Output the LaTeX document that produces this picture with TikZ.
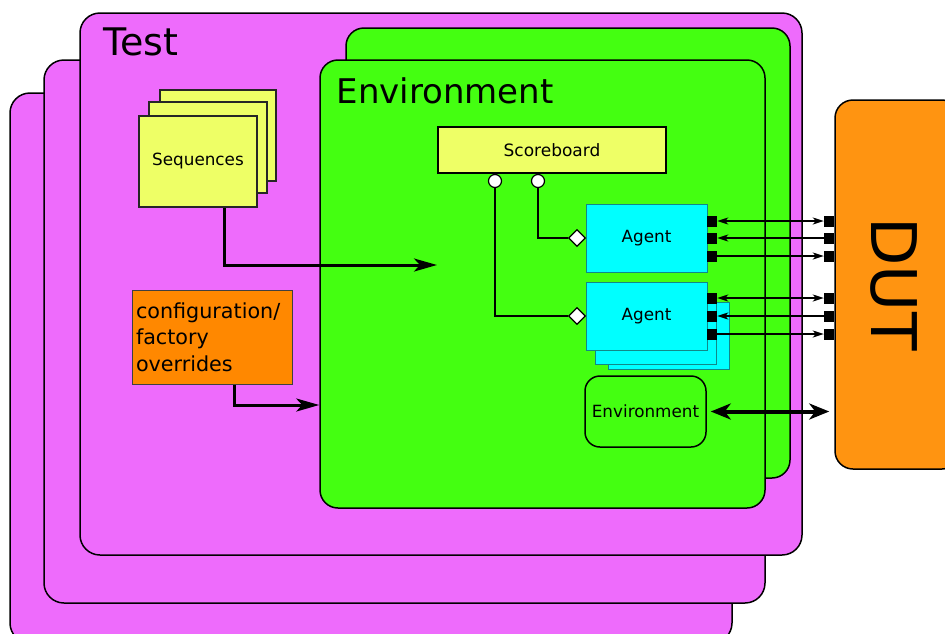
\documentclass[tikz,border=0pt]{standalone}
\usepackage{fontspec}
\setmainfont{DejaVu Sans}
\usetikzlibrary{arrows.meta,shapes.geometric}

\definecolor{testfill}{HTML}{EE6BFC}
\definecolor{envfill}{HTML}{44FF11}
\definecolor{seqfill}{HTML}{EEFF66}
\definecolor{agentfill}{HTML}{00FFFF}
\definecolor{agentline}{HTML}{118888}
\definecolor{cfgfill}{HTML}{FF8800}
\definecolor{dutfill}{HTML}{FF9411}

\tikzset{
  sigtip/.tip={Stealth[length=11, width=7, inset=3]},
  bigtip/.tip={Stealth[length=20, width=16, inset=6]},
  testbox/.style={draw=black, line width=1.5, fill=testfill, rounded corners=20, inner sep=0},
  envbox/.style={draw=black, line width=1.5, fill=envfill, rounded corners=18, inner sep=0},
  seqbox/.style={draw=black!85, line width=1.5, fill=seqfill, inner sep=0},
  agentbox/.style={draw=agentline, line width=1, fill=agentfill, inner sep=0},
  portbox/.style={fill=black, draw=none, minimum width=10, minimum height=11, inner sep=0},
  pin/.style={circle, draw=black, line width=1.2, fill=white, minimum size=13, inner sep=0},
  joint/.style={diamond, draw=black, line width=1.2, fill=white, minimum width=17, minimum height=17, inner sep=0},
  wire/.style={draw=black, line width=1.3},
  flow/.style={draw=black, line width=3, -{Stealth[length=23, width=13, inset=6]}},
  sig/.style={draw=black, line width=1.7},
  bigsig/.style={draw=black, line width=4, bigtip-bigtip},
  smallfont/.style={font=\fontsize{16.8}{20}\selectfont},
}

\begin{document}
\begin{tikzpicture}[x=1pt, y=-1pt]
\useasboundingbox (0,0) rectangle (945,633);

% stacked test layers
\node[testbox, minimum width=722, minimum height=550] (test3) at (371,368) {};
\node[testbox, minimum width=721, minimum height=543] (test2) at (404.5,331.5) {};
\node[testbox, minimum width=722, minimum height=542] (test1) at (441,284) {};
\node[anchor=base west, font=\fontsize{38}{40}\selectfont] (testlabel) at (100,55) {Test};

% stacked environments
\node[envbox, minimum width=444, minimum height=450] (env2) at (568,253) {};
\node[envbox, minimum width=445, minimum height=448] (env1) at (542.5,284) {};
\node[anchor=base west, font=\fontsize{34}{36}\selectfont] (envlabel) at (333,103) {Environment};

% sequences stack
\node[seqbox, minimum width=116, minimum height=91] (seq3) at (218,135.5) {};
\node[seqbox, minimum width=118, minimum height=91] (seq2) at (208,147.5) {};
\node[seqbox, minimum width=118, minimum height=91, smallfont] (seq1) at (198,161.5) {Sequences};

% configuration
\node[draw=black!75, line width=1, fill=cfgfill, minimum width=160, minimum height=94,
      text width=152, inner xsep=4, inner ysep=0, align=left,
      font=\fontsize{20.7}{26.5}\selectfont] (cfg) at (212,337)
      {configuration/\\factory\\overrides};

% arrows into the environment
\coordinate (seqturn) at (224,265);
\coordinate (seqend) at (437,265);
\draw[flow] (seq1.south -| seqturn) -- (seqturn) -- (seqend);
\coordinate (cfgturn) at (234,405);
\draw[flow] (cfg.south -| cfgturn) -- (cfgturn) -- (cfgturn -| env1.west);

% scoreboard
\node[draw=black, line width=1.5, fill=seqfill, minimum width=228, minimum height=46, inner sep=0,
      font=\fontsize{17}{20}\selectfont] (sb) at (552,150) {Scoreboard};

% agents
\node[agentbox, minimum width=121, minimum height=68, smallfont] (agA) at (646.5,238) {Agent};
\node[agentbox, minimum width=121, minimum height=67] (agB3) at (668.5,335.5) {};
\node[agentbox, minimum width=121, minimum height=68] (agB2) at (655.5,330) {};
\node[agentbox, minimum width=121, minimum height=68, smallfont] (agB) at (646.5,316) {Agent};

% analysis connections
\node[pin] (k1) at (495,181) {};
\node[pin] (k2) at (538,181) {};
\node[joint] (dm1) at (577,238) {};
\node[joint] (dm2) at (577,316) {};
\draw[wire] (k1.south) |- (dm2.west);
\draw[wire] (k2.south) |- (dm1.west);

% DUT
\node[draw=black, line width=1.5, fill=dutfill, rounded corners=18, minimum width=125, minimum height=369, inner sep=0] (dut) at (897.5,284.5) {};
\node[rotate=-90, font=\fontsize{63}{66}\selectfont] (dutlabel) at (894,284) {DUT};

% ports
\node[portbox] (aP1) at (712,221) {};
\node[portbox] (aP2) at (712,238) {};
\node[portbox] (aP3) at (712,256) {};
\node[portbox] (aP4) at (712,298) {};
\node[portbox] (aP5) at (712,316) {};
\node[portbox] (aP6) at (712,334) {};
\node[portbox] (dP1) at (829,221) {};
\node[portbox] (dP2) at (829,238) {};
\node[portbox] (dP3) at (829,256) {};
\node[portbox] (dP4) at (829,298) {};
\node[portbox] (dP5) at (829,316) {};
\node[portbox] (dP6) at (829,334) {};

\draw[sig, sigtip-sigtip] (aP1) -- (dP1);
\draw[sig, -sigtip] (dP2) -- (aP2);
\draw[sig, -sigtip] (aP3) -- (dP3);
\draw[sig, sigtip-sigtip] (aP4) -- (dP4);
\draw[sig, -sigtip] (dP5) -- (aP5);
\draw[sig, -sigtip] (aP6) -- (dP6);

% environment link to DUT
\node[draw=black, line width=1.5, rounded corners=15, minimum width=121, minimum height=71, inner sep=0, smallfont] (envsub) at (645.5,411.5) {Environment};
\draw[bigsig, shorten <=4, shorten >=5] (envsub.east) -- (envsub.east -| dut.west);

\end{tikzpicture}
\end{document}
